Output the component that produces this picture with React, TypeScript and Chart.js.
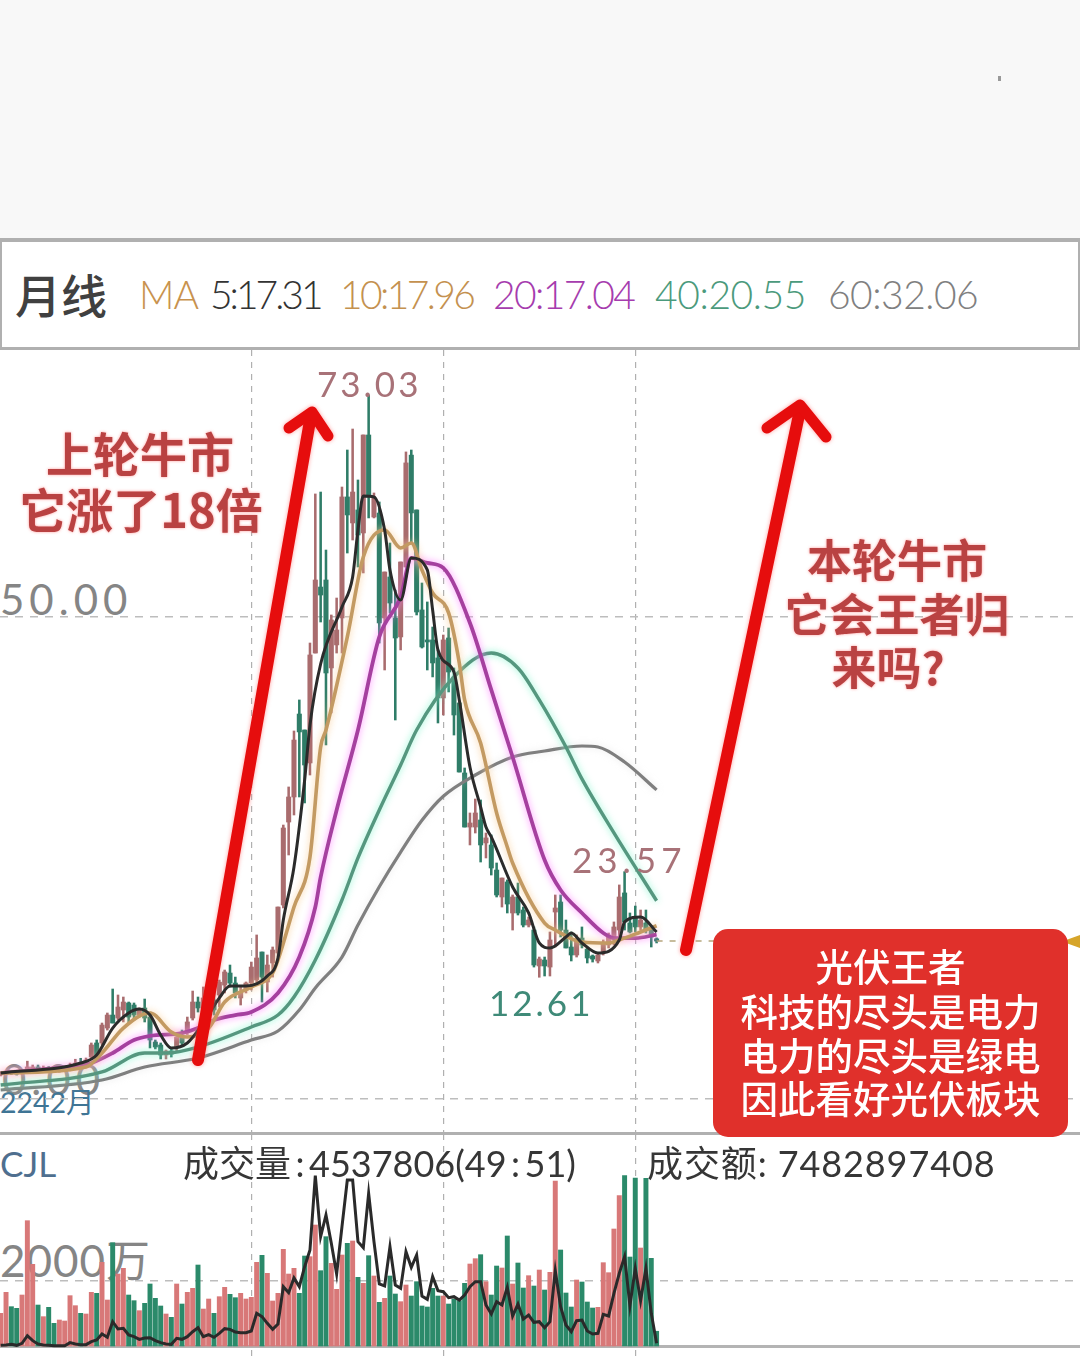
import React, { useEffect, useRef } from 'react'
import Chart from 'chart.js/auto'

// monthly candles, one value per month, oldest first
const candleOpen = [
  2.47, 2.57, 2.78, 2.7, 2.6, 2.8, 3.0, 3.3, 2.95, 3.2, 3.0, 2.85, 2.95, 3.0, 3.3, 3.7,
  3.5, 4.33, 5.79, 5.79, 7.34, 8.69, 8.38, 9.21, 9.94, 9.73, 8.69, 9.42, 8.48, 5.89, 5.58, 4.54,
  4.96, 5.27, 6.52, 6.93, 8.38, 10.04, 9.0, 8.69, 10.25, 10.77, 11.8, 13.05, 12.01, 10.46, 11.29, 12.01,
  12.32, 15.23, 12.12, 14.09, 15.13, 20.11, 28.72, 31.32, 39.93, 38.27, 34.85, 46.26, 53.11, 53.84, 44.71, 47.1,
  49.9, 62.46, 59.76, 61.11, 58.72, 68.89, 60.38, 60.79, 49.9, 54.15, 49.9, 47.93, 55.19, 66.8, 61.11, 50.73,
  47.62, 47.62, 45.75, 41.6, 47.82, 43.77, 41.08, 33.81, 28.2, 28.2, 28.93, 26.55, 26.34, 23.74, 20.94, 22.5,
  19.28, 20.94, 19.59, 18.03, 17.51, 13.78, 14.4, 13.67, 19.38, 20.42, 17.51, 15.75, 14.92, 16.68, 15.54, 14.82,
  14.3, 15.13, 15.96, 16.48, 17.51, 21.36, 18.24, 18.76, 17.83, 18.24, 17.51, 16.6,
]
const candleClose = [
  2.67, 2.78, 2.6, 2.55, 2.85, 3.3, 3.3, 3.0, 3.15, 2.95, 2.85, 3.0, 3.1, 3.4, 3.7, 3.4,
  4.02, 5.58, 4.54, 7.65, 8.69, 7.86, 9.52, 10.04, 8.48, 8.69, 9.21, 8.38, 6.1, 5.37, 4.54, 4.96,
  4.64, 6.41, 5.79, 7.97, 10.04, 9.42, 10.46, 10.25, 9.21, 12.1, 13.16, 12.01, 10.98, 11.08, 12.01, 13.67,
  14.61, 12.63, 13.88, 15.44, 19.9, 28.1, 31.32, 37.23, 38.07, 34.64, 46.06, 53.84, 52.28, 44.19, 49.69, 48.65,
  62.46, 60.59, 62.97, 58.51, 68.89, 62.46, 62.35, 49.38, 54.67, 51.45, 47.82, 55.71, 65.99, 60.8, 50.52, 46.89,
  47.41, 45.23, 41.6, 47.62, 44.29, 39.83, 33.91, 28.2, 28.62, 29.66, 26.34, 27.07, 23.95, 21.15, 22.91, 20.21,
  20.94, 19.28, 18.03, 18.55, 13.88, 14.5, 13.78, 16.48, 19.8, 17.51, 15.65, 14.92, 16.48, 15.96, 14.61, 14.5,
  14.92, 16.17, 17.0, 17.83, 20.94, 18.35, 17.31, 17.83, 18.55, 17.51, 16.79, 16.37,
]
const candleHigh = [
  2.78, 2.88, 2.88, 2.8, 3.0, 3.9, 3.5, 3.5, 3.4, 3.35, 3.1, 3.1, 3.25, 3.7, 4.1, 4.2,
  4.23, 5.79, 6.1, 7.86, 8.9, 11.39, 10.77, 10.56, 10.04, 9.94, 9.42, 10.35, 9.0, 6.1, 5.79, 5.06,
  5.17, 6.62, 7.13, 8.48, 11.18, 10.56, 11.6, 10.77, 11.8, 12.32, 13.36, 13.88, 12.63, 11.6, 12.12, 14.19,
  17.0, 15.23, 14.92, 15.75, 19.9, 28.41, 32.36, 38.17, 41.39, 38.27, 47.3, 62.77, 62.97, 56.95, 50.21, 51.97,
  63.49, 67.33, 69.51, 64.22, 68.89, 73.03, 62.87, 61.94, 54.67, 57.68, 52.8, 55.71, 67.13, 67.33, 61.11, 53.53,
  51.56, 48.96, 46.58, 48.13, 48.86, 44.71, 41.08, 34.33, 29.66, 31.11, 31.01, 27.58, 27.38, 24.47, 22.91, 22.71,
  21.15, 22.39, 19.9, 18.86, 17.83, 14.71, 14.71, 17.31, 21.15, 21.15, 18.55, 17.31, 17.0, 17.83, 15.75, 14.92,
  15.13, 16.48, 17.2, 18.35, 22.19, 23.57, 19.28, 20.0, 19.59, 19.59, 17.72, 16.7,
]
const candleLow = [
  2.36, 2.47, 2.5, 2.45, 2.5, 2.7, 2.9, 2.9, 2.85, 2.85, 2.75, 2.75, 2.85, 2.9, 3.2, 3.3,
  3.3, 4.13, 4.23, 5.58, 7.13, 7.86, 8.17, 7.97, 7.86, 8.17, 8.48, 7.97, 5.27, 5.17, 4.13, 4.13,
  4.33, 4.85, 5.48, 6.62, 8.17, 9.0, 8.69, 8.38, 8.69, 9.52, 10.98, 11.6, 10.46, 9.73, 10.98, 11.29,
  12.12, 10.04, 11.08, 12.63, 14.71, 19.8, 25.3, 29.45, 31.32, 30.7, 33.6, 46.26, 49.48, 36.72, 40.04, 46.26,
  46.26, 56.64, 57.99, 55.19, 54.57, 60.28, 60.28, 47.3, 44.5, 50.42, 39.31, 46.58, 55.19, 57.8, 50.21, 46.78,
  44.5, 43.78, 39.0, 39.83, 42.22, 37.75, 33.91, 28.2, 26.34, 27.58, 24.57, 24.99, 23.22, 20.94, 19.9, 19.28,
  17.51, 19.07, 17.83, 17.83, 13.67, 12.61, 12.74, 12.74, 15.75, 16.79, 15.65, 14.3, 14.71, 15.65, 14.09, 14.19,
  14.09, 14.92, 15.65, 15.96, 16.79, 17.51, 17.2, 17.31, 17.51, 17.2, 15.75, 16.17,
]

// moving averages, read at the months where the curve bends
const ma5Months = [0, 15, 18, 21, 24, 26, 28, 30, 32, 35, 38, 41, 43, 46, 50, 52, 53, 55, 57, 58, 60, 64, 66, 67, 68, 70, 72, 73, 75, 77, 80, 81, 82, 85, 86, 88, 90, 91, 92, 96, 99, 101, 103, 106, 107, 109, 112, 116, 117, 120, 123]
const ma5Values = [2.67, 3.71, 4.54, 7.34, 8.9, 9.31, 8.69, 6.62, 5.27, 5.79, 7.86, 10.46, 11.7, 11.7, 12.74, 14.61, 18.55, 24.05, 33.08, 38.79, 45.12, 51.04, 54.15, 59.03, 62.56, 62.46, 59.03, 54.88, 51.76, 56.13, 54.88, 50.73, 46.58, 44.29, 41.39, 34.43, 30.28, 28.2, 27.17, 21.98, 19.28, 16.17, 15.65, 16.79, 17.2, 16.17, 15.13, 16.48, 18.35, 18.87, 17.31]
const ma10Months = [0, 16, 19, 23, 28, 32, 35, 39, 42, 47, 51, 52, 55, 58, 60, 61, 65, 68, 72, 75, 77, 79, 81, 84, 86, 87, 90, 93, 95, 96, 102, 104, 109, 114, 116, 120, 123]
const ma10Values = [2.67, 3.3, 4.75, 7.34, 8.9, 6.93, 6.41, 7.34, 10.04, 11.6, 13.05, 14.4, 19.9, 25.09, 36.51, 38.27, 47.93, 56.23, 59.03, 57.16, 57.68, 54.88, 52.49, 50.42, 45.23, 41.39, 36.92, 29.66, 26.13, 24.47, 18.24, 17.51, 16.27, 16.17, 16.48, 17.31, 17.96]
const ma20Months = [0, 13, 16, 21, 25, 28, 34, 37, 40, 44, 47, 52, 56, 59, 60, 63, 67, 71, 75, 77, 80, 83, 88, 92, 96, 102, 105, 109, 113, 115, 119, 123]
const ma20Values = [2.67, 3.3, 3.5, 4.75, 6.1, 6.52, 6.82, 7.34, 8.17, 8.69, 9.0, 10.98, 14.71, 19.9, 23.0, 29.97, 38.27, 47.93, 52.08, 56.13, 55.61, 55.09, 49.38, 42.43, 35.47, 24.78, 21.67, 19.28, 17.2, 16.68, 16.68, 17.04]
const ma40Months = [0, 19, 27, 31, 37, 47, 52, 55, 59, 64, 67, 71, 75, 78, 85, 92, 97, 101, 106, 109, 115, 123]
const ma40Values = [1.43, 2.78, 4.75, 4.75, 5.37, 7.45, 8.69, 10.56, 14.4, 20.63, 24.99, 29.97, 34.64, 38.27, 43.77, 46.26, 44.71, 41.39, 36.5, 33.2, 27.6, 20.55]
const ma60Months = [0, 19, 27, 37, 47, 52, 56, 59, 64, 67, 71, 75, 79, 83, 89, 96, 102, 109, 112, 117, 123]
const ma60Values = [0.91, 1.95, 3.3, 4.23, 6.1, 7.03, 9.21, 11.5, 14.71, 18.03, 22.0, 25.6, 28.9, 31.4, 33.6, 35.47, 36.09, 36.61, 36.51, 34.95, 32.06]

// volume in 万, one bar per month
const volume = [
  1005, 1651, 1210, 1159, 1569, 3856, 2513, 1261, 903, 1190, 697, 800, 769, 1549, 1241, 1005,
  985, 1651, 1620, 2574, 1415, 3179, 2215, 2390, 1569, 1395, 1087, 1313, 1908, 1467, 1231, 985,
  882, 1908, 1292, 1651, 1774, 2492, 1138, 1446, 1005, 1518, 1805, 1590, 1487, 1620, 1446, 1497,
  2574, 2790, 2236, 1385, 1620, 2974, 2215, 2390, 1620, 2769, 2749, 3723, 2318, 3364, 2543, 1744,
  2800, 3159, 3231, 2113, 1928, 2779, 2154, 1344, 1467, 2154, 1600, 1364, 1877, 1538, 1979, 1231,
  1200, 1774, 1538, 1538, 1292, 1446, 1395, 1928, 2523, 2687, 2810, 1979, 1569, 2461, 2400, 3385,
  1908, 2554, 1785, 2164, 1846, 2338, 1723, 2267, 5077, 2954, 1631, 1200, 2031, 1969, 1354, 1169,
  1190, 2564, 2256, 3600, 4626, 5241, 2738, 5169, 3015, 5159, 2697, 453.78,
]
const volumeLine = [
  20, 31, 51, 21, 82, 318, 164, 62, 31, 21, 5, 5, 10, 103, 62, 41,
  41, 133, 185, 369, 267, 749, 523, 544, 338, 287, 205, 246, 256, 164, 103, 62,
  51, 236, 205, 287, 441, 564, 287, 349, 267, 390, 533, 513, 431, 410, 410, 462,
  1005, 903, 697, 513, 677, 1826, 1641, 2092, 1826, 2441, 2954, 5241, 3364, 4031, 3159, 2215,
  3672, 5108, 5108, 3210, 3026, 4697, 3210, 1908, 1846, 3056, 1877, 1774, 2902, 2420, 2800, 1538,
  1436, 2133, 1703, 1672, 1487, 1518, 1415, 1569, 1826, 1979, 1979, 1261, 985, 1364, 1261, 1805,
  923, 1292, 831, 954, 728, 749, 564, 749, 2318, 1210, 646, 441, 779, 800, 462, 369,
  390, 974, 923, 1620, 2236, 2749, 1241, 2390, 1395, 2390, 1005, 82,
]

const gridMonths = [47, 83, 119]
const priceGrid = [0, 50]
const volumeGrid = [2000]
const lastPrice = 16.37

const RED = '#a96c6e'
const GREEN = '#2f7d68'
const VOL_RED = '#d87878'
const VOL_GREEN = '#2b8a6a'

const xMin = -0.13
const xMax = 202.4

const months = candleOpen.map((_, i) => i)
const isUp = (i: number) => candleClose[i] >= candleOpen[i]

const maData = (xs: number[], ys: number[]) => xs.map((x, i) => ({ x, y: ys[i] }))

// the photo has a soft halo around every curve
const glowPlugin = {
  id: 'glow',
  beforeDatasetDraw(chart: any, args: any) {
    const ds = chart.data.datasets[args.index]
    if (!ds.glow) return
    chart.ctx.save()
    chart.ctx.shadowColor = ds.glow
    chart.ctx.shadowBlur = 7
  },
  afterDatasetDraw(chart: any, args: any) {
    if (chart.data.datasets[args.index].glow) chart.ctx.restore()
  },
}

const xScale = {
  type: 'linear' as const,
  min: xMin,
  max: xMax,
  offset: false,
  afterBuildTicks: (axis: any) => {
    axis.ticks = gridMonths.map((value) => ({ value }))
  },
  ticks: { display: false },
  border: { display: false, dash: [6, 6] },
  grid: { color: '#b0b0b0', lineWidth: 1.2, drawTicks: false, offset: false },
}

const yScale = (min: number, max: number, values: number[]) => ({
  type: 'linear' as const,
  min,
  max,
  afterBuildTicks: (axis: any) => {
    axis.ticks = values.map((value) => ({ value }))
  },
  ticks: { display: false },
  border: { display: false, dash: [8, 7] },
  grid: { color: '#bdbdbd', lineWidth: 1.5, drawTicks: false },
})

const baseOptions = {
  responsive: false,
  animation: false as const,
  devicePixelRatio: 1,
  layout: { padding: 0 },
  plugins: { legend: { display: false }, tooltip: { enabled: false } },
}

const maLine = (data: any[], color: string, glow: string, width: number, order: number) => ({
  type: 'line' as const,
  data,
  borderColor: color,
  borderWidth: width,
  pointRadius: 0,
  cubicInterpolationMode: 'monotone' as const,
  glow,
  order,
})

const label = (left: number, top: number, size: number, color: string, extra: React.CSSProperties = {}): React.CSSProperties => ({
  position: 'absolute',
  left,
  top,
  fontSize: size,
  color,
  lineHeight: 1,
  whiteSpace: 'nowrap',
  fontFamily: 'Lato, "Noto Sans CJK SC", sans-serif',
  fontWeight: 300,
  ...extra,
})

const noteStyle = (centre: number, top: number, size: number): React.CSSProperties => ({
  position: 'absolute',
  left: centre - 200,
  width: 400,
  top,
  textAlign: 'center',
  fontSize: size,
  lineHeight: 1,
  color: '#b94242',
  fontFamily: '"Noto Sans CJK SC", sans-serif',
  fontWeight: 700,
  textShadow: '0 0 3px rgba(255,110,110,.7)',
  whiteSpace: 'nowrap',
})

const boxLines = [
  { text: '光伏王者', top: 946 },
  { text: '科技的尽头是电力', top: 991 },
  { text: '电力的尽头是绿电', top: 1035 },
  { text: '因此看好光伏板块', top: 1078 },
]

export default function App() {
  const priceRef = useRef<HTMLCanvasElement | null>(null)
  const volumeRef = useRef<HTMLCanvasElement | null>(null)

  useEffect(() => {
    const price = new Chart(priceRef.current!, {
      type: 'bar',
      plugins: [glowPlugin],
      data: {
        datasets: [
          maLine(maData(ma5Months, ma5Values), '#2b2b2b', 'rgba(120,200,170,.0)', 3, 1),
          maLine(maData(ma10Months, ma10Values), '#c39a62', 'rgba(250,205,150,.9)', 3.6, 2),
          maLine(maData(ma20Months, ma20Values), '#a5409f', 'rgba(255,130,255,.9)', 3.8, 3),
          maLine(maData(ma40Months, ma40Values), '#55977f', 'rgba(130,245,205,.9)', 3.4, 4),
          maLine(maData(ma60Months, ma60Values), '#7f7f7f', 'rgba(200,200,200,.4)', 3.2, 5),
          {
            type: 'line' as const,
            data: [{ x: 123, y: lastPrice }, { x: xMax, y: lastPrice }],
            borderColor: '#b5a67c',
            borderWidth: 1.5,
            borderDash: [6, 7],
            pointRadius: 0,
            order: 6,
          },
          {
            data: months.map((x) => ({ x, y: [candleOpen[x], candleClose[x]] })),
            backgroundColor: months.map((i) => (isUp(i) ? RED : GREEN)),
            barThickness: 4.4,
            minBarLength: 2,
            grouped: false,
            order: 7,
          },
          {
            data: months.map((x) => ({ x, y: [candleLow[x], candleHigh[x]] })),
            backgroundColor: months.map((i) => (isUp(i) ? RED : GREEN)),
            barThickness: 1.9,
            grouped: false,
            order: 8,
          },
        ],
      } as any,
      options: {
        ...baseOptions,
        scales: { x: xScale, y: yScale(-3.45, 77.71, priceGrid) },
      } as any,
    })

    const vol = new Chart(volumeRef.current!, {
      type: 'bar',
      data: {
        datasets: [
          {
            type: 'line' as const,
            data: months.map((x) => ({ x, y: volumeLine[x] })),
            borderColor: '#2a2a2a',
            borderWidth: 3,
            pointRadius: 0,
            order: 1,
          },
          {
            data: months.map((x) => ({ x, y: volume[x] })),
            backgroundColor: months.map((i) => (isUp(i) ? VOL_RED : VOL_GREEN)),
            barThickness: 4.3,
            grouped: false,
            order: 2,
          },
        ],
      } as any,
      options: {
        ...baseOptions,
        scales: { x: xScale, y: yScale(-492, 6523, volumeGrid) },
      } as any,
    })

    return () => {
      price.destroy()
      vol.destroy()
    }
  }, [])

  return (
    <div style={{ position: 'absolute', left: 0, top: 0, width: 1080, height: 1362, overflow: 'hidden', background: '#fff' }}>
      {/* grey strip above the chart */}
      <div style={{ position: 'absolute', left: 0, top: 0, width: 1080, height: 238, background: '#f8f8f8' }} />
      <div style={{ position: 'absolute', left: 998, top: 76, width: 3, height: 5, background: '#999' }} />
      <div style={{ position: 'absolute', left: 0, top: 238, width: 1076, height: 105, border: '2px solid #b0b0b0', borderTopWidth: 4, borderBottomWidth: 3 }} />

      {/* header */}
      <div style={label(15, 270, 46, '#404040', { fontFamily: '"Noto Sans CJK SC", sans-serif', fontWeight: 500 })}>月线</div>
      <div style={label(139, 275, 39, '#c8924e', { letterSpacing: -1 })}>MA</div>
      <div style={label(210, 275, 39, '#333333', { letterSpacing: -3 })}>5:17.31</div>
      <div style={label(340, 275, 39, '#c4914f', { letterSpacing: -2.6 })}>10:17.96</div>
      <div style={label(493, 275, 39, '#a63cae', { letterSpacing: -1.6 })}>20:17.04</div>
      <div style={label(655, 275, 39, '#4b9a7c', { letterSpacing: -0.4 })}>40:20.55</div>
      <div style={label(828, 275, 39, '#808080', { letterSpacing: -0.5 })}>60:32.06</div>

      {/* axis labels sit under the marks */}
      <div style={label(0, 578, 42, '#858585', { letterSpacing: 5, fontWeight: 400 })}>50.00</div>
      <div style={label(2, 1058, 42, '#858585', { letterSpacing: 5, fontWeight: 400 })}>0.00</div>
      <div style={label(0, 1088, 28.5, '#3f7595', { fontWeight: 400 })}>2242月</div>
      <div style={label(0, 1146, 35, '#4f6f8f', { fontWeight: 400 })}>CJL</div>
      <div style={label(0, 1238, 44, '#858585', { letterSpacing: 1, fontWeight: 400 })}>2000万</div>

      <canvas ref={priceRef} width={1080} height={782} style={{ position: 'absolute', left: 0, top: 350 }} />
      <div style={{ position: 'absolute', left: 0, top: 1132, width: 1080, height: 3, background: '#b0b0b0' }} />
      <div style={{ position: 'absolute', left: 0, top: 1345, width: 1080, height: 3, background: '#b4b4b4' }} />
      <canvas ref={volumeRef} width={1080} height={228} style={{ position: 'absolute', left: 0, top: 1134 }} />

      {/* price extremes */}
      <div style={label(317, 366, 35, '#a87278', { letterSpacing: 3, fontWeight: 400 })}>73.03</div>
      <div style={label(572, 842, 35, '#a87278', { letterSpacing: 5, fontWeight: 400 })}>23.57</div>
      <div style={label(489, 985, 35, '#3f8a78', { letterSpacing: 3, fontWeight: 400 })}>12.61</div>

      {/* volume read-out */}
      <div style={label(183, 1145, 36, '#363636', { fontWeight: 400 })}>{'成交量\u2009:\u20094537806(49\u2009:\u200951)'}</div>
      <div style={label(647, 1145, 36, '#363636', { fontWeight: 400, letterSpacing: 0.9 })}>成交额: 7482897408</div>

      {/* hand drawn arrows */}
      <svg width={1080} height={1362} style={{ position: 'absolute', left: 0, top: 0 }}>
        <g fill="none" stroke="#e60d0d" strokeLinecap="round" strokeLinejoin="round" style={{ filter: 'drop-shadow(0 0 2px rgba(255,120,120,.7))' }}>
          <path d="M198 1060 L311 415" strokeWidth={12} />
          <path d="M289 428 L312 412 L328 436" strokeWidth={11} />
          <path d="M686 950 L800 410" strokeWidth={12} />
          <path d="M767 428 L800 405 L826 437" strokeWidth={11} />
        </g>
      </svg>

      <div style={noteStyle(140, 428, 47)}>上轮牛市</div>
      <div style={noteStyle(141, 484, 47)}>它涨了18倍</div>
      <div style={noteStyle(897, 536, 45)}>本轮牛市</div>
      <div style={noteStyle(897, 590, 45)}>它会王者归</div>
      <div style={noteStyle(888, 643, 45)}>来吗?</div>

      {/* marker of the last price, mostly behind the red box */}
      <div style={{ position: 'absolute', left: 1062, top: 935, width: 18, height: 13, background: '#d6a52a', clipPath: 'polygon(0 50%, 100% 0, 100% 100%)' }} />

      <div style={{ position: 'absolute', left: 713, top: 929, width: 355, height: 208, borderRadius: 15, background: '#e0302b' }} />
      {boxLines.map((line) => (
        <div
          key={line.text}
          style={{
            position: 'absolute',
            left: 713,
            width: 355,
            top: line.top,
            textAlign: 'center',
            fontSize: 37.5,
            lineHeight: 1,
            color: '#fff',
            fontFamily: '"Noto Sans CJK SC", sans-serif',
            fontWeight: 500,
          }}
        >
          {line.text}
        </div>
      ))}
    </div>
  )
}
